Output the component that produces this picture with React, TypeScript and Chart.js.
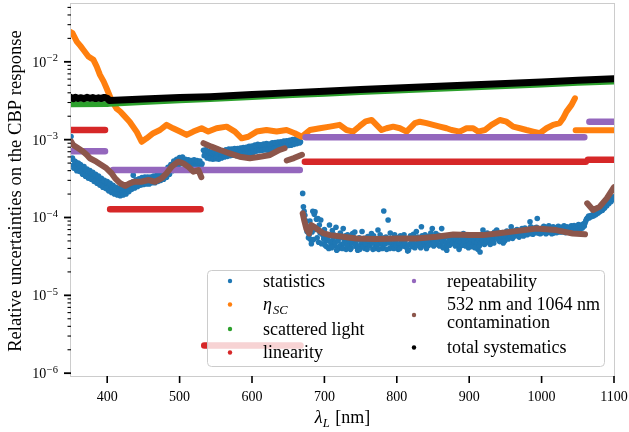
import React, { useEffect, useRef } from 'react';
import { Chart, registerables } from 'chart.js';
Chart.register(...registerables);

// ---------- axis ranges / ticks ----------
const xRange: [number, number] = [350, 1100];
const yRange: [number, number] = [9.2e-7, 0.0553];
const xTickValues = [400, 500, 600, 700, 800, 900, 1000, 1100];
const yTickExponents = [-6, -5, -4, -3, -2];

// ---------- series labels ----------
const seriesNames = [
  'statistics',
  'η_SC',
  'scattered light',
  'linearity',
  'repeatability',
  '532 nm and 1064 nm contamination',
  'total systematics',
];
const seriesColors = ['#1f77b4', '#ff7f0e', '#2ca02c', '#d62728', '#9467bd', '#8c564b', '#000000'];

// ---------- statistics (scatter points) ----------
const statisticsBand1: [number, number][] = [
  [350, 1.1e-3], [351, 5.6e-4], [353, 4.7e-4], [355, 5.3e-4], [357, 4.4e-4], [359, 4.9e-4], [361, 4.2e-4],
  [363, 4.8e-4], [365, 3.9e-4], [367, 4.3e-4], [369, 3.6e-4], [371, 4.1e-4], [373, 3.5e-4], [375, 3.9e-4],
  [377, 3.3e-4], [379, 3.7e-4], [381, 3.1e-4], [383, 3.5e-4], [385, 3.0e-4], [387, 3.3e-4], [389, 2.8e-4],
  [391, 3.1e-4], [393, 2.6e-4], [395, 2.9e-4], [397, 2.55e-4], [399, 2.8e-4], [401, 2.4e-4], [403, 2.6e-4],
  [405, 2.25e-4], [407, 2.45e-4], [409, 2.15e-4], [411, 2.3e-4], [413, 2.05e-4], [415, 2.25e-4], [417, 2.0e-4],
  [419, 2.2e-4], [421, 2.1e-4], [423, 2.35e-4], [425, 2.15e-4], [427, 2.4e-4], [429, 2.3e-4], [431, 2.55e-4],
  [433, 2.45e-4], [435, 2.7e-4], [436, 3.5e-4], [437, 2.5e-4], [439, 2.85e-4], [441, 2.6e-4], [443, 2.95e-4],
  [445, 2.7e-4], [447, 3.05e-4], [449, 2.8e-4], [451, 3.1e-4], [453, 2.85e-4], [455, 3.15e-4], [457, 2.9e-4],
  [459, 3.1e-4], [461, 2.85e-4], [463, 3.2e-4], [465, 2.95e-4], [467, 3.3e-4], [469, 3.0e-4], [471, 3.35e-4],
  [473, 3.1e-4], [475, 3.5e-4], [477, 3.3e-4], [479, 3.7e-4], [481, 3.6e-4], [483, 4.1e-4], [485, 3.9e-4],
  [487, 4.5e-4], [489, 4.2e-4], [491, 4.9e-4], [493, 4.6e-4], [495, 5.3e-4], [497, 4.9e-4], [499, 5.6e-4],
  [501, 5.1e-4], [503, 5.7e-4], [505, 5.2e-4], [507, 5.5e-4], [509, 4.8e-4], [511, 5.3e-4], [513, 4.7e-4],
  [515, 5.2e-4], [517, 4.6e-4], [519, 5.3e-4], [521, 4.7e-4], [523, 5.2e-4], [525, 4.6e-4], [527, 5.1e-4],
  [529, 4.5e-4], [531, 4.9e-4],
  [352, 5.8e-4], [354, 4.3e-4], [356, 5.2e-4], [358, 4.0e-4], [360, 5.0e-4], [362, 3.9e-4], [364, 4.6e-4],
  [366, 3.6e-4], [368, 4.5e-4], [370, 3.4e-4], [372, 4.2e-4], [374, 3.2e-4], [376, 4.0e-4], [378, 3.1e-4],
  [380, 3.8e-4], [382, 2.9e-4], [384, 3.6e-4], [386, 2.75e-4], [388, 3.4e-4], [390, 2.6e-4], [392, 3.2e-4],
  [394, 2.45e-4], [396, 3.0e-4], [398, 2.35e-4], [400, 2.9e-4], [402, 2.2e-4], [404, 2.75e-4], [406, 2.1e-4],
  [408, 2.6e-4], [410, 2.0e-4], [412, 2.45e-4], [414, 1.95e-4], [416, 2.35e-4], [418, 1.9e-4], [420, 2.4e-4],
  [422, 1.95e-4], [424, 2.5e-4], [426, 2.0e-4], [428, 2.6e-4], [430, 2.15e-4], [432, 2.75e-4], [434, 2.3e-4],
  [436, 2.9e-4], [438, 2.4e-4], [440, 3.05e-4], [442, 2.5e-4], [444, 3.15e-4], [446, 2.6e-4], [448, 3.25e-4],
  [450, 2.65e-4], [452, 3.3e-4], [454, 2.7e-4], [456, 3.3e-4], [458, 2.7e-4], [460, 3.3e-4], [462, 2.8e-4],
  [464, 3.4e-4], [466, 2.8e-4], [468, 3.45e-4], [470, 2.9e-4], [472, 3.6e-4], [474, 3.0e-4], [476, 3.75e-4],
  [478, 3.1e-4], [480, 4.0e-4], [482, 3.3e-4], [484, 4.4e-4], [486, 3.6e-4], [488, 4.8e-4], [490, 4.0e-4],
  [492, 5.3e-4], [494, 4.4e-4], [496, 5.6e-4], [498, 4.7e-4], [500, 5.9e-4], [502, 4.9e-4], [504, 6.0e-4],
  [506, 4.9e-4], [508, 5.6e-4], [510, 4.5e-4], [512, 5.5e-4], [514, 4.4e-4], [516, 5.4e-4], [518, 4.4e-4],
  [520, 5.5e-4], [522, 4.4e-4], [524, 5.4e-4], [526, 4.3e-4], [528, 5.3e-4], [530, 4.3e-4],
];
const statisticsBand2: [number, number][] = [
  [533, 7.3e-4], [535, 6.5e-4], [537, 7.0e-4], [539, 6.2e-4], [541, 6.8e-4], [543, 6.0e-4], [545, 6.6e-4],
  [547, 5.9e-4], [549, 6.7e-4], [551, 6.0e-4], [553, 6.5e-4], [555, 5.8e-4], [557, 6.6e-4], [559, 6.1e-4],
  [561, 6.9e-4], [563, 6.3e-4], [565, 7.1e-4], [567, 6.4e-4], [569, 7.2e-4], [571, 6.5e-4], [573, 7.3e-4],
  [575, 6.6e-4], [577, 7.2e-4], [579, 6.5e-4], [581, 7.4e-4], [583, 6.7e-4], [585, 7.3e-4], [587, 6.6e-4],
  [589, 7.5e-4], [591, 6.8e-4], [593, 7.6e-4], [595, 6.9e-4], [597, 7.8e-4], [599, 7.0e-4], [601, 7.9e-4],
  [603, 7.2e-4], [605, 8.1e-4], [607, 7.4e-4], [609, 8.3e-4], [611, 7.5e-4], [613, 8.2e-4], [615, 7.6e-4],
  [617, 8.4e-4], [619, 7.7e-4], [621, 8.5e-4], [623, 7.6e-4], [625, 8.4e-4], [627, 7.8e-4], [629, 8.7e-4],
  [631, 8.0e-4], [633, 8.8e-4], [635, 8.1e-4], [637, 8.9e-4], [639, 8.2e-4], [641, 9.0e-4], [643, 8.4e-4],
  [645, 9.2e-4], [647, 8.5e-4], [649, 9.3e-4], [651, 8.7e-4], [653, 9.4e-4], [655, 8.8e-4], [657, 9.6e-4],
  [659, 9.0e-4], [661, 9.8e-4], [663, 9.2e-4], [665, 1.0e-3], [667, 9.4e-4],
  [534, 6.2e-4], [536, 7.4e-4], [538, 5.8e-4], [540, 7.1e-4], [542, 5.7e-4], [544, 6.9e-4], [546, 5.6e-4],
  [548, 7.0e-4], [550, 5.7e-4], [552, 6.9e-4], [554, 5.6e-4], [556, 7.0e-4], [558, 5.8e-4], [560, 7.2e-4],
  [562, 6.0e-4], [564, 7.4e-4], [566, 6.1e-4], [568, 7.6e-4], [570, 6.2e-4], [572, 7.6e-4], [574, 6.3e-4],
  [576, 7.7e-4], [578, 6.2e-4], [580, 7.7e-4], [582, 6.3e-4], [584, 7.8e-4], [586, 6.4e-4], [588, 7.9e-4],
  [590, 6.5e-4], [592, 8.0e-4], [594, 6.6e-4], [596, 8.2e-4], [598, 6.7e-4], [600, 8.3e-4], [602, 6.9e-4],
  [604, 8.5e-4], [606, 7.1e-4], [608, 8.7e-4], [610, 7.2e-4], [612, 8.6e-4], [614, 7.3e-4], [616, 8.8e-4],
  [618, 7.4e-4], [620, 8.9e-4], [622, 7.3e-4], [624, 8.8e-4], [626, 7.5e-4], [628, 9.1e-4], [630, 7.7e-4],
  [632, 9.2e-4], [634, 7.8e-4], [636, 9.3e-4], [638, 7.9e-4], [640, 9.4e-4], [642, 8.1e-4], [644, 9.6e-4],
  [646, 8.2e-4], [648, 9.7e-4], [650, 8.4e-4], [652, 9.8e-4], [654, 8.5e-4], [656, 1.0e-3], [658, 8.7e-4],
  [660, 1.02e-3], [662, 8.9e-4], [664, 1.04e-3], [666, 9.1e-4],
];
const statisticsLow: [number, number][] = [
  [670, 2.04e-4], [671, 1.37e-4], [672, 1.2e-4], [673, 1.07e-4], [675, 9.0e-5], [677, 7.2e-5], [679, 6.0e-5],
  [681, 5.2e-5], [682, 4.6e-5], [684, 1.2e-4], [686, 1.1e-4], [687, 1.18e-4], [689, 9.5e-5], [691, 9.7e-5],
  [693, 8.0e-5], [695, 9.3e-5], [697, 6.5e-5], [698, 5.9e-5], [700, 7.0e-5], [702, 5.0e-5], [703, 4.2e-5],
  [705, 6.0e-5], [707, 8.0e-5], [709, 4.6e-5], [711, 6.8e-5], [712, 5.1e-5], [714, 4.3e-5], [716, 7.5e-5],
  [718, 5.6e-5], [720, 4.0e-5], [722, 6.3e-5], [724, 4.5e-5], [726, 7.2e-5], [728, 5.0e-5], [730, 3.9e-5],
  [732, 6.0e-5], [733, 4.4e-5], [735, 5.4e-5], [737, 4.1e-5], [739, 6.2e-5], [741, 4.7e-5], [742, 6.5e-5],
  [744, 4.2e-5], [746, 3.8e-5], [748, 5.5e-5], [750, 4.4e-5], [752, 6.6e-5], [754, 4.8e-5], [756, 4.0e-5],
  [758, 4.2e-5], [760, 5.7e-5], [762, 4.5e-5], [765, 6.2e-5], [767, 3.9e-5], [769, 5.0e-5], [771, 4.3e-5],
  [774, 6.9e-5], [776, 4.6e-5], [778, 5.3e-5], [780, 4.0e-5], [782, 1.21e-4], [785, 5.6e-5], [788, 9.3e-5],
  [790, 4.0e-5], [792, 5.2e-5], [794, 4.5e-5], [797, 6.0e-5], [800, 4.4e-5], [802, 3.9e-5], [805, 5.8e-5],
  [807, 4.6e-5], [809, 5.1e-5], [812, 4.2e-5], [816, 3.8e-5], [818, 5.4e-5], [820, 4.7e-5], [823, 6.1e-5],
  [825, 4.1e-5], [827, 6.6e-5], [830, 5.0e-5], [832, 4.4e-5], [834, 7.6e-5], [836, 5.3e-5], [838, 4.5e-5],
  [841, 4.0e-5], [843, 5.7e-5], [845, 4.8e-5], [847, 6.3e-5], [849, 7.2e-5], [851, 4.3e-5], [853, 5.5e-5],
  [855, 4.7e-5], [858, 5.9e-5], [860, 4.4e-5], [862, 7.2e-5], [865, 5.0e-5], [867, 4.1e-5], [869, 3.8e-5],
  [871, 5.6e-5], [874, 4.6e-5], [876, 6.0e-5], [878, 4.9e-5], [881, 4.3e-5], [884, 5.7e-5], [887, 4.2e-5],
  [889, 5.1e-5], [892, 6.2e-5], [894, 4.5e-5], [896, 5.4e-5], [899, 4.1e-5], [901, 6.0e-5], [903, 4.7e-5],
  [906, 5.2e-5], [909, 4.4e-5], [912, 3.9e-5], [915, 3.6e-5], [917, 5.5e-5], [919, 6.9e-5], [922, 5.0e-5],
  [925, 6.3e-5], [927, 4.8e-5], [930, 5.8e-5], [933, 5.4e-5], [935, 6.5e-5], [938, 6.9e-5], [940, 5.6e-5],
  [943, 6.1e-5], [945, 5.2e-5], [947, 4.7e-5], [950, 6.2e-5], [953, 5.7e-5], [956, 6.6e-5], [958, 7.6e-5],
  [961, 6.0e-5], [964, 6.8e-5], [967, 5.9e-5], [970, 6.5e-5], [973, 7.2e-5], [976, 6.2e-5], [979, 7.0e-5],
  [982, 6.4e-5], [984, 8.8e-5], [987, 6.6e-5], [990, 7.3e-5], [992, 6.4e-5], [994, 9.7e-5], [997, 7.1e-5],
  [1000, 6.3e-5], [1002, 6.6e-5], [1005, 7.5e-5], [1008, 6.4e-5], [1011, 7.0e-5], [1014, 6.2e-5], [1016, 7.6e-5],
  [1019, 6.8e-5], [1022, 7.3e-5], [1025, 6.5e-5], [1028, 7.0e-5], [1030, 6.9e-5], [1033, 6.4e-5], [1036, 7.4e-5],
  [1039, 6.7e-5], [1041, 7.8e-5], [1043, 7.2e-5], [1046, 6.6e-5], [1049, 7.7e-5], [1052, 7.0e-5], [1055, 8.0e-5],
  [1057, 7.6e-5], [1060, 8.5e-5], [1062, 9.5e-5], [1064, 1.0e-4], [1067, 1.02e-4], [1070, 1.05e-4], [1073, 1.1e-4],
  [1076, 1.13e-4], [1079, 1.2e-4], [1082, 1.25e-4], [1085, 1.31e-4], [1088, 1.4e-4], [1091, 1.5e-4], [1094, 1.59e-4],
  [1097, 1.7e-4], [1099, 1.76e-4],
  [674, 8.5e-5], [676, 6.6e-5], [678, 5.5e-5], [680, 9.0e-5], [683, 6.5e-5], [685, 5.2e-5], [688, 7.0e-5],
  [690, 5.5e-5], [692, 4.8e-5], [694, 6.3e-5], [696, 4.6e-5], [699, 5.3e-5], [701, 4.4e-5], [704, 5.5e-5],
  [706, 4.0e-5], [708, 5.0e-5], [710, 4.1e-5], [713, 6.0e-5], [715, 4.8e-5], [717, 3.8e-5], [719, 5.0e-5],
  [721, 4.3e-5], [723, 5.5e-5], [725, 4.0e-5], [727, 4.7e-5], [729, 5.8e-5], [731, 4.3e-5], [734, 5.0e-5],
  [736, 3.9e-5], [738, 4.8e-5], [740, 5.6e-5], [743, 4.5e-5], [745, 5.1e-5], [747, 4.3e-5], [749, 3.9e-5],
  [751, 5.0e-5], [753, 4.2e-5], [755, 5.4e-5], [757, 4.6e-5], [759, 3.9e-5], [761, 5.0e-5], [763, 4.3e-5],
  [764, 5.3e-5], [766, 4.7e-5], [768, 5.8e-5], [770, 4.0e-5], [772, 5.1e-5], [773, 4.4e-5], [775, 3.9e-5],
  [777, 6.0e-5], [779, 4.8e-5], [781, 4.2e-5], [783, 5.5e-5], [784, 4.6e-5], [786, 3.9e-5], [787, 5.0e-5],
  [789, 4.7e-5], [791, 6.3e-5], [793, 4.1e-5], [795, 5.4e-5], [796, 4.0e-5], [798, 4.9e-5], [799, 4.4e-5],
  [801, 5.5e-5], [803, 4.6e-5], [804, 4.0e-5], [806, 5.2e-5], [808, 4.3e-5], [810, 6.0e-5], [811, 4.7e-5],
  [813, 5.3e-5], [814, 4.1e-5], [815, 3.7e-5], [817, 4.5e-5], [819, 5.8e-5], [821, 4.2e-5], [822, 5.0e-5],
  [824, 4.6e-5], [826, 5.3e-5], [828, 4.4e-5], [829, 5.6e-5], [831, 4.7e-5], [833, 4.1e-5], [835, 5.8e-5],
  [837, 4.9e-5], [839, 6.0e-5], [840, 4.2e-5], [842, 4.9e-5], [844, 4.4e-5], [846, 5.4e-5], [848, 4.5e-5],
  [850, 5.2e-5], [852, 4.7e-5], [854, 6.2e-5], [856, 4.5e-5], [857, 5.1e-5], [859, 4.3e-5], [861, 5.5e-5],
  [863, 4.8e-5], [864, 4.1e-5], [866, 5.7e-5], [868, 4.7e-5], [870, 4.3e-5], [872, 5.1e-5], [873, 4.4e-5],
  [875, 5.3e-5], [877, 4.7e-5], [879, 5.6e-5], [880, 4.5e-5], [882, 5.2e-5], [883, 4.6e-5], [885, 5.0e-5],
  [886, 3.9e-5], [888, 4.8e-5], [890, 5.7e-5], [891, 4.4e-5], [893, 5.0e-5], [895, 4.3e-5], [897, 5.8e-5],
  [898, 4.9e-5], [900, 4.5e-5], [902, 5.3e-5], [904, 4.2e-5], [905, 5.6e-5], [907, 5.0e-5], [908, 4.1e-5],
  [910, 5.5e-5], [911, 4.8e-5], [913, 5.2e-5], [914, 4.3e-5], [916, 4.8e-5], [918, 5.1e-5], [920, 5.9e-5],
  [921, 4.5e-5], [923, 5.4e-5], [924, 4.9e-5], [926, 5.7e-5], [928, 5.2e-5], [929, 4.5e-5], [931, 6.1e-5],
  [932, 5.0e-5], [934, 4.7e-5], [936, 5.6e-5], [937, 6.0e-5], [939, 5.3e-5], [941, 6.3e-5], [942, 4.9e-5],
  [944, 5.8e-5], [946, 6.4e-5], [948, 5.5e-5], [949, 5.0e-5], [951, 5.8e-5], [952, 6.7e-5], [954, 5.3e-5],
  [955, 6.0e-5], [957, 5.6e-5], [959, 6.3e-5], [960, 5.4e-5], [962, 6.6e-5], [963, 5.8e-5], [965, 6.2e-5],
  [966, 7.0e-5], [968, 6.1e-5], [969, 5.6e-5], [971, 6.8e-5], [972, 6.0e-5], [974, 6.6e-5], [975, 5.8e-5],
  [977, 7.3e-5], [978, 6.4e-5], [980, 6.0e-5], [981, 6.9e-5], [983, 6.2e-5], [985, 7.6e-5], [986, 6.5e-5],
  [988, 6.1e-5], [989, 7.0e-5], [991, 6.6e-5], [993, 7.5e-5], [995, 6.3e-5], [996, 6.9e-5], [998, 6.2e-5],
  [999, 7.2e-5], [1001, 6.6e-5], [1003, 7.7e-5], [1004, 6.8e-5], [1006, 6.2e-5], [1007, 7.2e-5], [1009, 6.7e-5],
  [1010, 7.8e-5], [1012, 6.5e-5], [1013, 7.3e-5], [1015, 6.9e-5], [1017, 6.3e-5], [1018, 7.4e-5], [1020, 7.0e-5],
  [1021, 6.4e-5], [1023, 7.7e-5], [1024, 7.0e-5], [1026, 6.6e-5], [1027, 7.5e-5], [1029, 6.5e-5], [1031, 7.8e-5],
  [1032, 7.1e-5], [1034, 6.7e-5], [1035, 7.6e-5], [1037, 6.9e-5], [1038, 7.3e-5], [1040, 6.8e-5], [1042, 7.5e-5],
  [1044, 6.9e-5], [1045, 7.9e-5], [1047, 7.3e-5], [1048, 6.8e-5], [1050, 7.4e-5], [1051, 8.1e-5], [1053, 7.2e-5],
  [1054, 7.7e-5], [1056, 7.3e-5], [1058, 8.3e-5], [1059, 7.8e-5], [1061, 9.0e-5], [1063, 9.8e-5], [1065, 1.04e-4],
  [1066, 9.9e-5], [1068, 1.06e-4], [1069, 1.03e-4], [1071, 1.09e-4], [1072, 1.05e-4], [1074, 1.12e-4],
  [1075, 1.09e-4], [1077, 1.16e-4], [1078, 1.14e-4], [1080, 1.22e-4], [1081, 1.19e-4], [1083, 1.27e-4],
  [1084, 1.24e-4], [1086, 1.34e-4], [1087, 1.32e-4], [1089, 1.44e-4], [1090, 1.42e-4], [1092, 1.53e-4],
  [1093, 1.51e-4], [1095, 1.63e-4], [1096, 1.61e-4], [1098, 1.73e-4], [1100, 1.85e-4],
];

// ---------- eta_SC ----------
const etaSCMain: [number, number][] = [
  [350, 0.024], [352, 0.0234], [358, 0.0182], [363, 0.016], [367, 0.0143], [374, 0.0117], [381, 0.0106],
  [385.5, 0.0087], [390, 0.0068], [395, 0.0056], [399, 0.0046], [406, 0.0032], [413, 0.0025], [418, 0.0023],
  [422, 0.0021], [431, 0.0017], [441, 0.00125], [447.6, 0.00094], [454.5, 0.00104], [463.6, 0.00121],
  [472.9, 0.00133], [482, 0.00155], [491, 0.0014], [500.5, 0.00127], [509.7, 0.00115], [519, 0.00127],
  [530.4, 0.0014], [539.6, 0.00127], [551, 0.0014], [565, 0.00147], [576.4, 0.00127], [585.7, 0.00104],
  [594.8, 0.00109], [606.4, 0.00127], [620, 0.00133], [634, 0.00127], [647.8, 0.00133], [659, 0.00121],
  [668.5, 0.00109], [680, 0.00133], [693.8, 0.0014], [707.6, 0.00147], [721, 0.00155], [730.6, 0.00133],
  [739.8, 0.00127], [749, 0.0015], [757, 0.00172], [765.2, 0.00179], [779, 0.00133], [785.9, 0.0014],
  [795, 0.00147], [804.2, 0.0014], [813.5, 0.00127], [825, 0.00163], [831.8, 0.0017], [841.1, 0.00163],
  [850.2, 0.00155], [859.5, 0.00147], [868.7, 0.0014], [875.6, 0.00133], [887, 0.00127], [896.3, 0.0014],
  [905.4, 0.0014], [912.3, 0.00127], [921.6, 0.00133], [930.8, 0.00155], [942.3, 0.00179], [951.5, 0.0017],
  [960.7, 0.00147], [969.9, 0.0014], [979.1, 0.00133], [988.3, 0.00127], [997.5, 0.00121], [1006.8, 0.0014],
  [1015.9, 0.00155], [1025, 0.00163], [1029.7, 0.00188], [1034.4, 0.00229], [1041.3, 0.0028], [1046, 0.0034],
];
const etaSCTail: [number, number][] = [[1047, 0.00132], [1100, 0.00132]];

// ---------- scattered light ----------
const scatteredLight: [number, number][] = [
  [350, 2.86e-3], [400, 2.88e-3], [403, 2.9e-3], [450, 3.05e-3], [500, 3.2e-3], [542, 3.32e-3], [600, 3.53e-3],
  [656, 3.74e-3], [700, 3.9e-3], [750, 4.09e-3], [800, 4.28e-3], [850, 4.48e-3], [900, 4.68e-3], [950, 4.9e-3],
  [1000, 5.13e-3], [1050, 5.37e-3], [1100, 5.6e-3],
];

// ---------- linearity (flat segments) ----------
const linearity: [number, number][][] = [
  [[350, 1.33e-3], [397, 1.33e-3]],
  [[404, 1.28e-4], [529, 1.28e-4]],
  [[534, 2.26e-6], [667, 2.26e-6]],
  [[673, 5.2e-4], [1061, 5.2e-4]],
  [[1064, 5.5e-4], [1100, 5.5e-4]],
];

// ---------- repeatability (flat segments) ----------
const repeatability: [number, number][][] = [
  [[350, 7.1e-4], [397, 7.1e-4]],
  [[408, 4.07e-4], [666, 4.07e-4]],
  [[674, 1.07e-3], [1059, 1.07e-3]],
  [[1066, 1.7e-3], [1100, 1.7e-3]],
];

// ---------- 532/1064 nm contamination ----------
const contamination: [number, number][][] = [
  [
    [350, 9.5e-4], [353, 8.55e-4], [360, 7.75e-4], [367, 7.0e-4], [372, 6.36e-4], [376, 5.77e-4], [385, 5.21e-4],
    [392, 4.72e-4], [399, 4.28e-4], [406, 3.7e-4], [411, 3.18e-4], [418, 2.75e-4], [425, 2.55e-4], [431, 2.75e-4],
    [438, 2.88e-4], [447, 2.88e-4], [457, 3.03e-4], [466, 2.88e-4], [475, 3.18e-4], [482, 3.7e-4], [489, 4.5e-4],
    [498, 5.21e-4], [505, 4.97e-4], [512, 4.5e-4], [519, 3.88e-4], [526, 4.07e-4], [530, 3.3e-4],
  ],
  [
    [533, 9.0e-4], [544, 8.13e-4], [556, 7.37e-4], [569, 6.68e-4], [583, 6.04e-4], [597, 5.77e-4], [611, 6.04e-4],
    [625, 6.36e-4], [638, 7.37e-4], [645, 7.75e-4],
  ],
  [[648, 5.4e-4], [658, 5.8e-4], [669, 6.4e-4]],
  [
    [670, 1.13e-4], [672, 9.3e-5], [675, 7.2e-5], [679, 6.24e-5], [682, 7.98e-5], [686, 7.6e-5], [691, 7.0e-5],
    [698, 6.3e-5], [708, 5.94e-5], [726, 5.65e-5], [744, 5.38e-5], [772, 5.3e-5], [800, 5.38e-5], [827, 5.38e-5],
    [855, 5.65e-5], [878, 6.05e-5], [901, 5.94e-5], [919, 5.94e-5], [938, 6.24e-5], [965, 6.68e-5], [993, 7.24e-5],
    [1020, 6.89e-5], [1043, 6.24e-5], [1060, 6.1e-5],
  ],
  [[1063, 1.52e-4], [1071, 1.25e-4], [1080, 1.37e-4], [1090, 1.76e-4], [1100, 2.45e-4]],
];

// ---------- total systematics ----------
const totalSystematics: [number, number][] = [
  [350, 3.48e-3], [353, 3.36e-3], [356, 3.5e-3], [360, 3.38e-3], [364, 3.46e-3], [368, 3.36e-3], [372, 3.5e-3],
  [376, 3.4e-3], [380, 3.47e-3], [384, 3.37e-3], [388, 3.45e-3], [392, 3.38e-3], [396, 3.49e-3], [400, 3.4e-3],
  [403, 3.18e-3], [450, 3.33e-3], [500, 3.48e-3], [542, 3.57e-3], [600, 3.8e-3], [656, 4.02e-3], [700, 4.2e-3],
  [750, 4.4e-3], [800, 4.6e-3], [850, 4.82e-3], [900, 5.03e-3], [950, 5.27e-3], [1000, 5.52e-3], [1050, 5.78e-3],
  [1100, 6.05e-3],
];

// ---------- helpers ----------
type Pt = { x: number; y: number | null };
const toPts = (arr: [number, number][]): Pt[] => arr.map(([x, y]) => ({ x, y }));
const joinSegments = (segs: [number, number][][]): Pt[] => {
  const out: Pt[] = [];
  segs.forEach((s, i) => {
    if (i > 0) out.push({ x: (segs[i - 1][segs[i - 1].length - 1][0] + s[0][0]) / 2, y: null });
    out.push(...toPts(s));
  });
  return out;
};

const SERIF = '"Liberation Serif", "Times New Roman", serif';

const lineDs = (label: string, color: string, data: Pt[], order: number, width = 6) => ({
  type: 'line' as const,
  label,
  data,
  borderColor: color,
  backgroundColor: color,
  borderWidth: width,
  borderCapStyle: 'round' as const,
  borderJoinStyle: 'round' as const,
  pointRadius: 0,
  tension: 0,
  spanGaps: false,
  order,
  clip: 0,
});

const decorPlugin = {
  id: 'decor',
  afterDraw(chart: any) {
    const { ctx, chartArea: a, scales } = chart;
    const xs = scales.x;
    const ys = scales.y;
    ctx.save();
    // frame
    ctx.strokeStyle = '#cccccc';
    ctx.lineWidth = 1;
    ctx.strokeRect(a.left - 0.5, a.top - 0.5, a.right - a.left + 1, a.bottom - a.top + 1);

    // x ticks
    ctx.strokeStyle = '#000';
    ctx.fillStyle = '#000';
    ctx.lineWidth = 1.6;
    ctx.font = `14px ${SERIF}`;
    ctx.textAlign = 'center';
    ctx.textBaseline = 'alphabetic';
    xTickValues.forEach((t) => {
      const px = xs.getPixelForValue(t);
      ctx.beginPath();
      ctx.moveTo(px, a.bottom);
      ctx.lineTo(px, a.bottom + 7);
      ctx.stroke();
      ctx.fillText(String(t), px, a.bottom + 25);
    });

    // y minor ticks
    ctx.lineWidth = 1.1;
    for (let e = -7; e <= -1; e++) {
      for (let m = 2; m <= 9; m++) {
        const v = m * Math.pow(10, e);
        if (v < yRange[0] || v > yRange[1]) continue;
        const py = ys.getPixelForValue(v);
        ctx.beginPath();
        ctx.moveTo(a.left - 3.5, py);
        ctx.lineTo(a.left, py);
        ctx.stroke();
      }
    }
    // y major ticks + labels
    ctx.lineWidth = 1.8;
    yTickExponents.forEach((e) => {
      const py = ys.getPixelForValue(Math.pow(10, e));
      ctx.beginPath();
      ctx.moveTo(a.left - 7, py);
      ctx.lineTo(a.left, py);
      ctx.stroke();
      const sup = '\u2212' + String(Math.abs(e));
      ctx.textAlign = 'right';
      ctx.font = `10.5px ${SERIF}`;
      const supRight = a.left - 13;
      ctx.fillText(sup, supRight, py - 0.5);
      const supW = ctx.measureText(sup).width;
      ctx.font = `14px ${SERIF}`;
      ctx.fillText('10', supRight - supW - 0.5, py + 5);
    });

    // axis titles
    ctx.font = `18.6px ${SERIF}`;
    ctx.textAlign = 'center';
    ctx.save();
    ctx.translate(20.5, (a.top + a.bottom) / 2 + 1);
    ctx.rotate(-Math.PI / 2);
    ctx.fillText('Relative uncertainties on the CBP response', 0, 0);
    ctx.restore();

    // x title: λ_L [nm]
    {
      const cx = (a.left + a.right) / 2;
      const base = 423;
      ctx.font = `italic 18px ${SERIF}`;
      const wL = ctx.measureText('λ').width;
      ctx.font = `italic 12.6px ${SERIF}`;
      const wSub = ctx.measureText('L').width;
      ctx.font = `18px ${SERIF}`;
      const wRest = ctx.measureText(' [nm]').width;
      let x0 = cx - (wL + wSub + 1 + wRest) / 2;
      ctx.textAlign = 'left';
      ctx.font = `italic 18px ${SERIF}`;
      ctx.fillText('λ', x0, base);
      x0 += wL;
      ctx.font = `italic 12.6px ${SERIF}`;
      ctx.fillText('L', x0, base + 3.5);
      x0 += wSub + 1;
      ctx.font = `18px ${SERIF}`;
      ctx.fillText(' [nm]', x0, base);
    }

    // legend
    {
      const lx = 207.5, ly = 270.5, lw = 397, lh = 96, r = 4;
      ctx.beginPath();
      ctx.moveTo(lx + r, ly);
      ctx.lineTo(lx + lw - r, ly);
      ctx.quadraticCurveTo(lx + lw, ly, lx + lw, ly + r);
      ctx.lineTo(lx + lw, ly + lh - r);
      ctx.quadraticCurveTo(lx + lw, ly + lh, lx + lw - r, ly + lh);
      ctx.lineTo(lx + r, ly + lh);
      ctx.quadraticCurveTo(lx, ly + lh, lx, ly + lh - r);
      ctx.lineTo(lx, ly + r);
      ctx.quadraticCurveTo(lx, ly, lx + r, ly);
      ctx.closePath();
      ctx.fillStyle = 'rgba(255,255,255,0.8)';
      ctx.fill();
      ctx.strokeStyle = '#cccccc';
      ctx.lineWidth = 1;
      ctx.stroke();

      const dot = (x: number, y: number, c: string) => {
        ctx.beginPath();
        ctx.arc(x, y, 2.2, 0, Math.PI * 2);
        ctx.fillStyle = c;
        ctx.fill();
      };
      ctx.textAlign = 'left';
      ctx.textBaseline = 'alphabetic';
      const c1m = 230, c1t = 263, c2m = 414, c2t = 447;
      // column 1
      dot(c1m, 281, seriesColors[0]);
      ctx.fillStyle = '#000';
      ctx.font = `18px ${SERIF}`;
      ctx.fillText(seriesNames[0], c1t, 287);

      dot(c1m, 304.5, seriesColors[1]);
      ctx.fillStyle = '#000';
      ctx.font = `italic 18px ${SERIF}`;
      ctx.fillText('η', c1t, 310);
      const we = ctx.measureText('η').width;
      ctx.font = `italic 12.6px ${SERIF}`;
      ctx.fillText('SC', c1t + we + 1, 314);

      dot(c1m, 329, seriesColors[2]);
      ctx.fillStyle = '#000';
      ctx.font = `18px ${SERIF}`;
      ctx.fillText(seriesNames[2], c1t, 334.5);

      dot(c1m, 352.5, seriesColors[3]);
      ctx.fillStyle = '#000';
      ctx.fillText(seriesNames[3], c1t, 358);

      // column 2
      dot(c2m, 281, seriesColors[4]);
      ctx.fillStyle = '#000';
      ctx.fillText(seriesNames[4], c2t, 286.5);

      dot(c2m, 315, seriesColors[5]);
      ctx.fillStyle = '#000';
      ctx.fillText('532 nm and 1064 nm', c2t, 310);
      ctx.fillText('contamination', c2t, 328);

      dot(c2m, 347.5, seriesColors[6]);
      ctx.fillStyle = '#000';
      ctx.fillText(seriesNames[6], c2t, 352.5);
    }
    ctx.restore();
  },
};

export default function App() {
  const ref = useRef<HTMLCanvasElement>(null);
  useEffect(() => {
    document.body.style.margin = '0';
    const canvas = ref.current;
    if (!canvas) return;
    const datasets: any[] = [
      {
        type: 'line',
        label: seriesNames[0],
        data: [...toPts(statisticsBand1), ...toPts(statisticsBand2), ...toPts(statisticsLow)],
        showLine: false,
        pointRadius: 2.8,
        pointBorderWidth: 0,
        pointBackgroundColor: seriesColors[0],
        borderColor: seriesColors[0],
        order: 7,
        clip: 0,
      },
      lineDs(seriesNames[1], seriesColors[1], joinSegments([etaSCMain, etaSCTail]), 6),
      lineDs(seriesNames[2], seriesColors[2], toPts(scatteredLight), 5),
      lineDs(seriesNames[3], seriesColors[3], joinSegments(linearity), 4, 6.5),
      lineDs(seriesNames[4], seriesColors[4], joinSegments(repeatability), 3, 6.5),
      lineDs(seriesNames[5], seriesColors[5], joinSegments(contamination), 2),
      lineDs(seriesNames[6], seriesColors[6], toPts(totalSystematics), 1, 7),
    ];
    const chart = new Chart(canvas, {
      type: 'line',
      data: { datasets },
      options: {
        responsive: false,
        animation: false,
        layout: { padding: { top: 4, right: 15, left: 0, bottom: 0 } },
        scales: {
          x: {
            type: 'linear',
            min: xRange[0],
            max: xRange[1],
            grid: { display: false },
            border: { display: false },
            ticks: { display: false },
            afterFit: (s: any) => {
              s.height = 56;
            },
          },
          y: {
            type: 'logarithmic',
            min: yRange[0],
            max: yRange[1],
            grid: { display: false },
            border: { display: false },
            ticks: { display: false },
            afterFit: (s: any) => {
              s.width = 71;
            },
          },
        },
        plugins: { legend: { display: false }, tooltip: { enabled: false } },
      },
      plugins: [decorPlugin],
    } as any);
    return () => chart.destroy();
  }, []);
  return (
    <div style={{ position: 'fixed', left: 0, top: 0, width: 629, height: 432, background: '#fff' }}>
      <canvas ref={ref} width={629} height={432} style={{ width: 629, height: 432, display: 'block' }} />
    </div>
  );
}
